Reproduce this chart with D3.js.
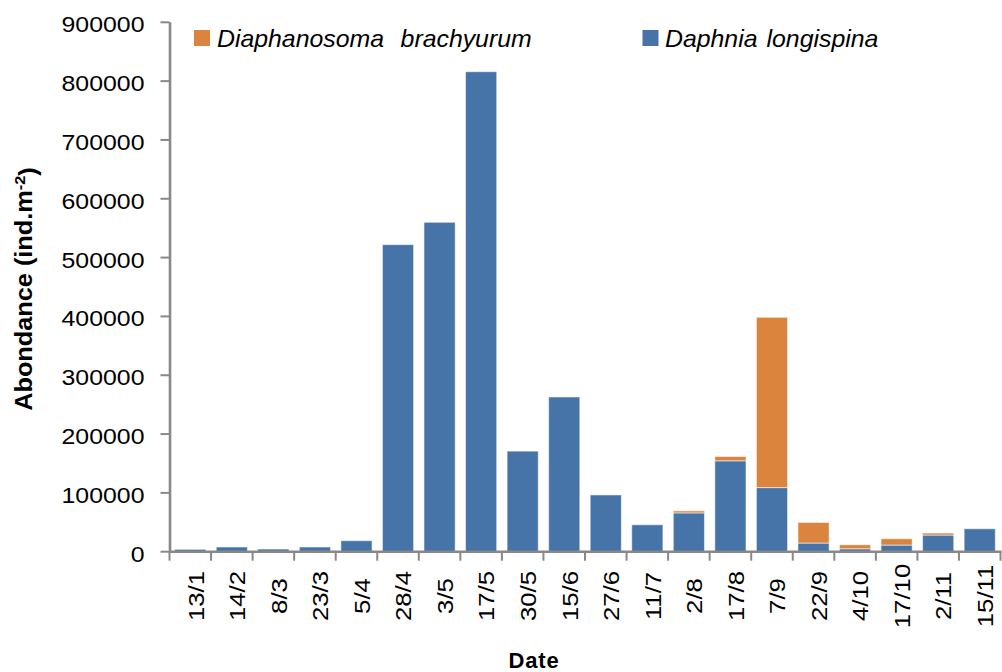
<!DOCTYPE html>
<html>
<head>
<meta charset="utf-8">
<script src="https://cdn.jsdelivr.net/npm/d3@7/dist/d3.min.js"></script>
<style>
  html, body { margin: 0; padding: 0; background: #fff; }
  svg { display: block; }
  text { font-family: "Liberation Sans", Arial, sans-serif; fill: #000; }
</style>
</head>
<body>
<svg id="chart" width="1002" height="672"></svg>
<script>
// ---- data ----
const dates = ["13/1","14/2","8/3","23/3","5/4","28/4","3/5","17/5","30/5","15/6","27/6","11/7","2/8","17/8","7/9","22/9","4/10","17/10","2/11","15/11"];
const daphnia = [4000, 8000, 4500, 8000, 18700, 522000, 560000, 816000, 171000, 263000, 96500, 45800, 66000, 154500, 109000, 14700, 5000, 11300, 28300, 39000];
const diaphanosoma = [0, 0, 0, 0, 0, 0, 0, 0, 0, 0, 0, 0, 3400, 7300, 289500, 35000, 6800, 10700, 3400, 0];
const yTicks = [0, 100000, 200000, 300000, 400000, 500000, 600000, 700000, 800000, 900000];
const seriesNames = ["Daphnia longispina", "Diaphanosoma brachyurum"];
const legendOrder = ["Diaphanosoma brachyurum", "Daphnia longispina"];
const colors = {"Daphnia longispina": "#4673a8", "Diaphanosoma brachyurum": "#db843d"};

const rows = dates.map((d, i) => ({date: d, "Daphnia longispina": daphnia[i], "Diaphanosoma brachyurum": diaphanosoma[i]}));

const svg = d3.select("#chart");
const x0 = 169.5, x1 = 1000.5, yTop = 22.3, yBot = 551.7;

const x = d3.scaleBand().domain(dates).range([x0, x1]).paddingInner(0.25).paddingOuter(0.125);
const y = d3.scaleLinear().domain([0, 900000]).range([yBot, yTop]);
const step = x.step();

// bars
const stack = d3.stack().keys(seriesNames)(rows);
svg.append("g").selectAll("g").data(stack).join("g")
  .attr("fill", s => colors[s.key])
  .selectAll("rect").data(s => s.filter(d => d[1] - d[0] > 0)).join("rect")
  .attr("x", d => x(d.data.date))
  .attr("width", x.bandwidth())
  .attr("y", d => y(d[1]))
  .attr("height", d => y(d[0]) - y(d[1]))
  .attr("stroke", "#ffffff")
  .attr("stroke-opacity", 0.55)
  .attr("stroke-width", 1);

const axisColor = "#888888";
// y axis
const gy = svg.append("g");
gy.append("line").attr("x1", x0 + 0.5).attr("x2", x0 + 0.5).attr("y1", yTop).attr("y2", yBot + 1)
  .attr("stroke", axisColor).attr("stroke-width", 2.6);
gy.selectAll("line.tk").data(yTicks).join("line").attr("class", "tk")
  .attr("x1", x0 - 9).attr("x2", x0).attr("y1", d => y(d)).attr("y2", d => y(d))
  .attr("stroke", axisColor).attr("stroke-width", 2);
gy.selectAll("text").data(yTicks).join("text")
  .attr("transform", d => `translate(144.5,${y(d) + 2}) scale(1.13,1)`)
  .attr("dy", "0.36em")
  .attr("text-anchor", "end")
  .style("font-size", "22px")
  .text(d => d);

// x axis
const gx = svg.append("g");
gx.append("line").attr("x1", x0).attr("x2", x1 + 1).attr("y1", yBot).attr("y2", yBot)
  .attr("stroke", axisColor).attr("stroke-width", 2.6);
const bounds = dates.map(d => x(d) - step * 0.125).concat([x1]);
gx.selectAll("line.tk").data(bounds).join("line").attr("class", "tk")
  .attr("x1", d => d).attr("x2", d => d).attr("y1", yBot).attr("y2", yBot + 9)
  .attr("stroke", axisColor).attr("stroke-width", 2);
gx.selectAll("text").data(dates).join("text")
  .attr("transform", d => `translate(${x(d) + x.bandwidth() / 2 + 5},596) rotate(-90) scale(1.12,1)`)
  .attr("dy", "0.36em")
  .attr("text-anchor", "middle")
  .style("font-size", "23px")
  .text(d => d);

// axis titles
svg.append("text")
  .attr("transform", "translate(32,289) rotate(-90) scale(1.1,1)")
  .attr("text-anchor", "middle")
  .style("font-size", "23px").style("font-weight", "bold")
  .call(t => {
    t.append("tspan").text("Abondance (ind.m");
    t.append("tspan").attr("dy", "-0.5em").style("font-size", "15px").text("-2");
    t.append("tspan").attr("dy", "0.5em").text(")");
  });
svg.append("text")
  .attr("x", 534).attr("y", 668)
  .attr("text-anchor", "middle")
  .style("font-size", "22px").style("font-weight", "bold").style("letter-spacing", "0.8px")
  .text("Date");

// legend
const legendPos = [{sq: 194, tx: 217}, {sq: 642.5, tx: 665}];
const lg = svg.append("g").selectAll("g").data(legendOrder).join("g");
lg.append("rect")
  .attr("x", (d, i) => legendPos[i].sq).attr("y", 30)
  .attr("width", 16).attr("height", 16)
  .attr("fill", d => colors[d]);
lg.append("text")
  .attr("transform", (d, i) => `translate(${legendPos[i].tx},46.5) scale(1.08,1)`)
  .style("font-size", "23px").style("font-style", "italic")
  .each(function(d) {
    const words = d.split(" ");
    const t = d3.select(this);
    t.append("tspan").text(words[0]);
    t.append("tspan").attr("dx", d === "Diaphanosoma brachyurum" ? 9 : 2).text(" " + words[1]);
  });
</script>
</body>
</html>
